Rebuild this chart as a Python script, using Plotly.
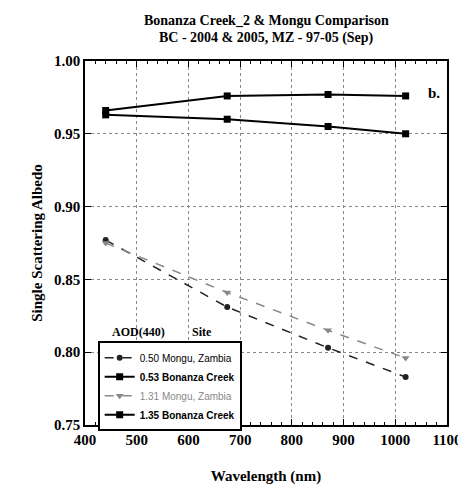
import plotly.graph_objects as go

wavelength = [440, 675, 870, 1020]
mongu_050 = [0.877, 0.831, 0.803, 0.783]
bonanza_053 = [0.966, 0.976, 0.977, 0.976]
mongu_131 = [0.875, 0.841, 0.815, 0.796]
bonanza_135 = [0.963, 0.960, 0.955, 0.950]

serif = 'Liberation Serif, Times New Roman, serif'
sans = 'Liberation Sans, Arial, sans-serif'

fig = go.Figure()
fig.add_trace(go.Scatter(x=wavelength, y=mongu_050, name='0.50 Mongu, Zambia', mode='lines+markers',
                         line=dict(color='#222', width=1.5, dash='dash'),
                         marker=dict(symbol='circle', size=6, color='#222')))
fig.add_trace(go.Scatter(x=wavelength, y=bonanza_053, name='<b>0.53 Bonanza Creek</b>', mode='lines+markers',
                         line=dict(color='black', width=2),
                         marker=dict(symbol='square', size=7, color='black')))
fig.add_trace(go.Scatter(x=wavelength, y=mongu_131, name="<span style='color:#888'>1.31 Mongu, Zambia</span>",
                         mode='lines+markers',
                         line=dict(color='#888', width=1.5, dash='dash'),
                         marker=dict(symbol='triangle-down', size=7, color='#888')))
fig.add_trace(go.Scatter(x=wavelength, y=bonanza_135, name='<b>1.35 Bonanza Creek</b>', mode='lines+markers',
                         line=dict(color='black', width=2),
                         marker=dict(symbol='square', size=7, color='black')))

tick_font = dict(family=serif, size=15, color='black', weight='bold')
axis_common = dict(showline=True, linecolor='black', linewidth=1.5, mirror='ticks',
                   ticks='inside', ticklen=6, tickcolor='black',
                   showgrid=True, gridcolor='#888', griddash='dot', gridwidth=1,
                   zeroline=False, tickfont=tick_font)

fig.update_xaxes(range=[400, 1100], tickvals=list(range(400, 1101, 100)),
                 title=dict(text='Wavelength (nm)', font=tick_font, standoff=24),
                 minor=dict(dtick=20, ticks='inside', ticklen=3, tickcolor='black', showgrid=False),
                 **axis_common)
fig.update_yaxes(range=[0.75, 1.0], dtick=0.05, tickformat='.2f',
                 title=dict(text='Single Scattering Albedo', font=tick_font, standoff=8),
                 **axis_common)

fig.add_annotation(x=0.985, y=0.94, xref='paper', yref='paper', text='<b>b.</b>', showarrow=False,
                   xanchor='right', font=dict(family=serif, size=15, color='black'))
fig.add_annotation(x=0.07, y=0.23, xref='paper', yref='paper', text='<b>AOD(440)</b>', showarrow=False,
                   xanchor='left', yanchor='bottom', font=dict(family=serif, size=12, color='black'))
fig.add_annotation(x=0.29, y=0.23, xref='paper', yref='paper', text='<b>Site</b>', showarrow=False,
                   xanchor='left', yanchor='bottom', font=dict(family=serif, size=12, color='black'))
fig.add_annotation(x=0.5, y=1.112, xref='paper', yref='paper', text='<b>Bonanza Creek_2 & Mongu Comparison</b>',
                   showarrow=False, xanchor='center', yanchor='middle',
                   font=dict(family=serif, size=14, color='black'))
fig.add_annotation(x=0.5, y=1.064, xref='paper', yref='paper', text='<b>BC - 2004 & 2005, MZ - 97-05 (Sep)</b>',
                   showarrow=False, xanchor='center', yanchor='middle',
                   font=dict(family=serif, size=14, color='black'))

fig.update_layout(
    width=466, height=487,
    margin=dict(l=77, r=19, t=53, b=70),
    paper_bgcolor='white', plot_bgcolor='white',
    legend=dict(x=0.035, y=0.23, xanchor='left', yanchor='top', bgcolor='white',
                bordercolor='black', borderwidth=2, tracegroupgap=0, itemwidth=30,
                font=dict(family=sans, size=10, color='black')),
    showlegend=True,
)

fig.write_html('out.html')
